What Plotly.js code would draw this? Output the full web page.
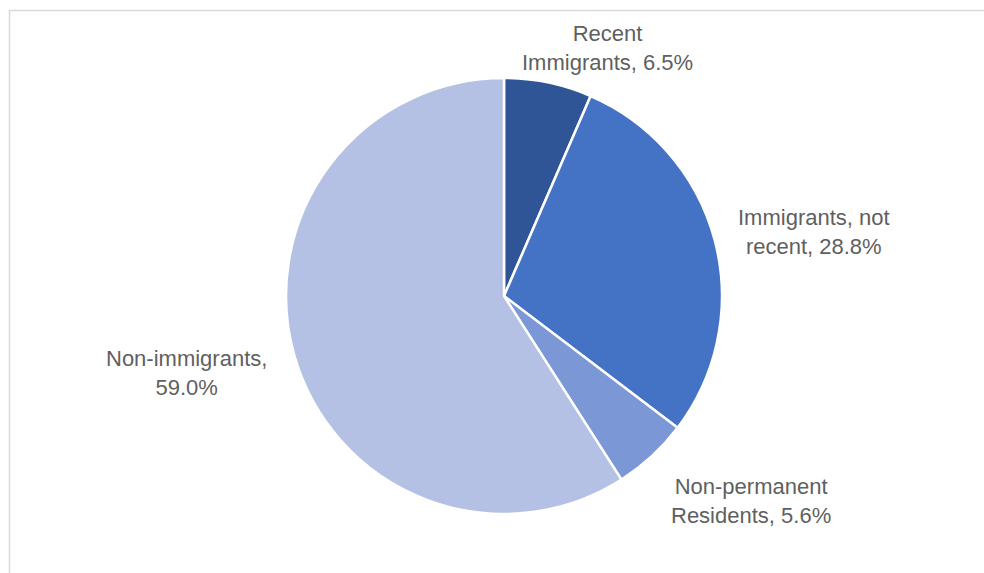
<!DOCTYPE html>
<html>
<head>
<meta charset="utf-8">
<script src="https://cdn.plot.ly/plotly-3.0.1.min.js"></script>
<style>html,body{margin:0;padding:0;background:#fff;}#chart{width:984px;height:573px;}</style>
</head>
<body>
<div id="chart"></div>
<script>
var categories = ["Recent Immigrants", "Immigrants, not recent", "Non-permanent Residents", "Non-immigrants"];
var labelText = ["Recent<br>Immigrants, ", "Immigrants, not<br>recent, ", "Non-permanent<br>Residents, ", "Non-immigrants,<br>"];
var values = [6.5, 28.8, 5.6, 59.0];
var colors = ["#2F5597", "#4472C4", "#7C97D6", "#B4C1E4"];

// label anchor positions (paper coords) - layout only
var labelPos = [[0.617, 0.917], [0.827, 0.595], [0.763, 0.126], [0.190, 0.349]];

var annotations = categories.map(function (c, i) {
  return {
    x: labelPos[i][0], y: labelPos[i][1], xref: "paper", yref: "paper",
    xanchor: "center", yanchor: "middle", showarrow: false, align: "center",
    text: labelText[i] + values[i].toFixed(1) + "%",
    font: {family: "Liberation Sans, Arial, sans-serif", size: 22, color: "#5f5f5f"}
  };
});

var data = [{
  type: "pie",
  labels: categories,
  values: values,
  sort: false,
  direction: "clockwise",
  rotation: 0,
  textinfo: "none",
  hoverinfo: "label+percent",
  marker: {colors: colors, line: {color: "#ffffff", width: 2.5}},
  domain: {x: [0.2907, 0.7337], y: [0.1030, 0.8639]},
  showlegend: false
}];

var layout = {
  width: 984, height: 573,
  margin: {l: 0, r: 0, t: 0, b: 0},
  paper_bgcolor: "#ffffff",
  showlegend: false,
  annotations: annotations,
  shapes: [{
    type: "rect", xref: "paper", yref: "paper",
    x0: 9.5 / 984, x1: 1.05, y0: -0.05, y1: 1 - 10.5 / 573,
    line: {color: "#d9d9d9", width: 1.5}
  }]
};

Plotly.newPlot("chart", data, layout, {displayModeBar: false, staticPlot: true});
</script>
</body>
</html>
